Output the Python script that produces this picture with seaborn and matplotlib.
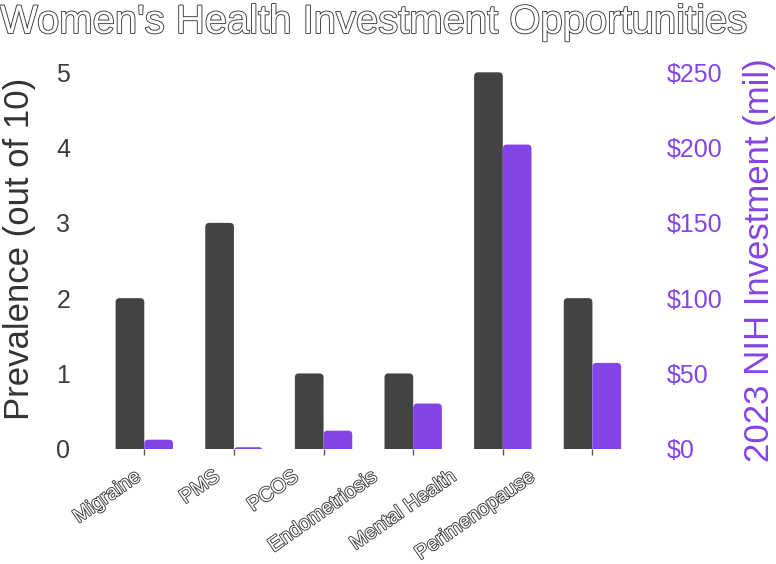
import matplotlib
matplotlib.use("Agg")
import matplotlib.pyplot as plt
import matplotlib.ticker as mticker
import matplotlib.patheffects as pe
from matplotlib.patches import FancyBboxPatch
from matplotlib.transforms import ScaledTranslation
import pandas as pd
import seaborn as sns

# ── Data ─────────────────────────────────────────────────────
categories = ["Migraine", "PMS", "PCOS", "Endometriosis", "Mental Health", "Perimenopause"]
prevalence = [2, 3, 1, 1, 5, 2]                 # out of 10
nih_investment = [6, 1, 12, 30, 202, 57]        # 2023 NIH, $ mil
series_order = ["Prevalence", "NIH Investment"]

DARK = "#434343"
PURPLE = "#8544e6"
OUTLINE = [pe.withStroke(linewidth=1.3, foreground="#3a3a3a")]

sns.set_theme(style="white")
plt.rcParams["font.family"] = ["Liberation Sans", "DejaVu Sans"]

df = pd.DataFrame({
    "condition": categories * 2,
    "series": [series_order[0]] * len(categories) + [series_order[1]] * len(categories),
    "value": prevalence + nih_investment,
})
palette = dict(zip(series_order, [DARK, PURPLE]))

fig = plt.figure(figsize=(7.76, 5.64), dpi=100, facecolor="white")
ax = fig.add_axes([0.1282, 0.2044, 0.693, 0.6674])
ax2 = ax.twinx()

for a, name in [(ax, series_order[0]), (ax2, series_order[1])]:
    sns.barplot(data=df[df["series"] == name], x="condition", y="value",
                hue="series", hue_order=series_order, order=categories,
                palette=palette, width=0.64, gap=0, saturation=1,
                dodge=True, legend=False, ax=a)

ax.set_xlim(-0.5, len(categories) - 0.5)
ax.set_ylim(0, 5)
ax.set_yticks(range(0, 6))
ax2.set_ylim(0, 250)
ax2.set_yticks(range(0, 251, 50))
ax2.yaxis.set_major_formatter(mticker.FuncFormatter(lambda v, p: f"${v:.0f}"))

for s in list(ax.spines.values()) + list(ax2.spines.values()):
    s.set_visible(False)

# ── rounded bar tops ─────────────────────────────────────────
ax_w_px = 0.693 * 776
ax_h_px = 0.6674 * 564
x_px = ax_w_px / len(categories)
radius_px = 4
for a, ymax in [(ax, 5), (ax2, 250)]:
    y_px = ax_h_px / ymax
    r = radius_px / x_px
    aspect = x_px / y_px
    for bar in list(a.patches):
        x, w, h = bar.get_x(), bar.get_width(), bar.get_height()
        if h != h or w == 0:
            bar.remove()
            continue
        ext = 2 * radius_px / y_px
        a.add_patch(FancyBboxPatch(
            (x, -ext), w, h + ext,
            boxstyle=f"round,pad=0,rounding_size={r}",
            mutation_aspect=aspect,
            facecolor=bar.get_facecolor(), edgecolor="none",
        ))
        bar.remove()

# ── ticks & labels ───────────────────────────────────────────
ax.tick_params(axis="y", length=0, pad=21, labelsize=18, labelcolor="#3a3a3a")
ax2.tick_params(axis="y", length=0, pad=21, labelsize=18, labelcolor=PURPLE)
ax.tick_params(axis="x", bottom=True, length=4, width=1, color="#555555",
               direction="out", pad=9, labelsize=14.5)

for i, lab in enumerate(ax.get_xticklabels()):
    lab.set_rotation(35)
    lab.set_ha("right")
    lab.set_color("white")
    lab.set_path_effects(OUTLINE)
    lab.set_transform(lab.get_transform()
                      + ScaledTranslation(-10.8 * i / 100, 0, fig.dpi_scale_trans))

ax.set_xlabel("")
ax.set_ylabel("Prevalence (out of 10)", fontsize=25, color="#333333")
ax.yaxis.set_label_coords(-0.118, 0.53)
ax2.set_ylabel("2023 NIH Investment (mil)", fontsize=25, color=PURPLE)
ax2.yaxis.set_label_coords(1.1966, 0.5)

fig.text(0.0, 1 - 33 / 564, "Women's Health Investment Opportunities",
         fontsize=28.8, color="white", ha="left", va="baseline",
         path_effects=OUTLINE)

fig.savefig("out.png", dpi=100, facecolor="white")
